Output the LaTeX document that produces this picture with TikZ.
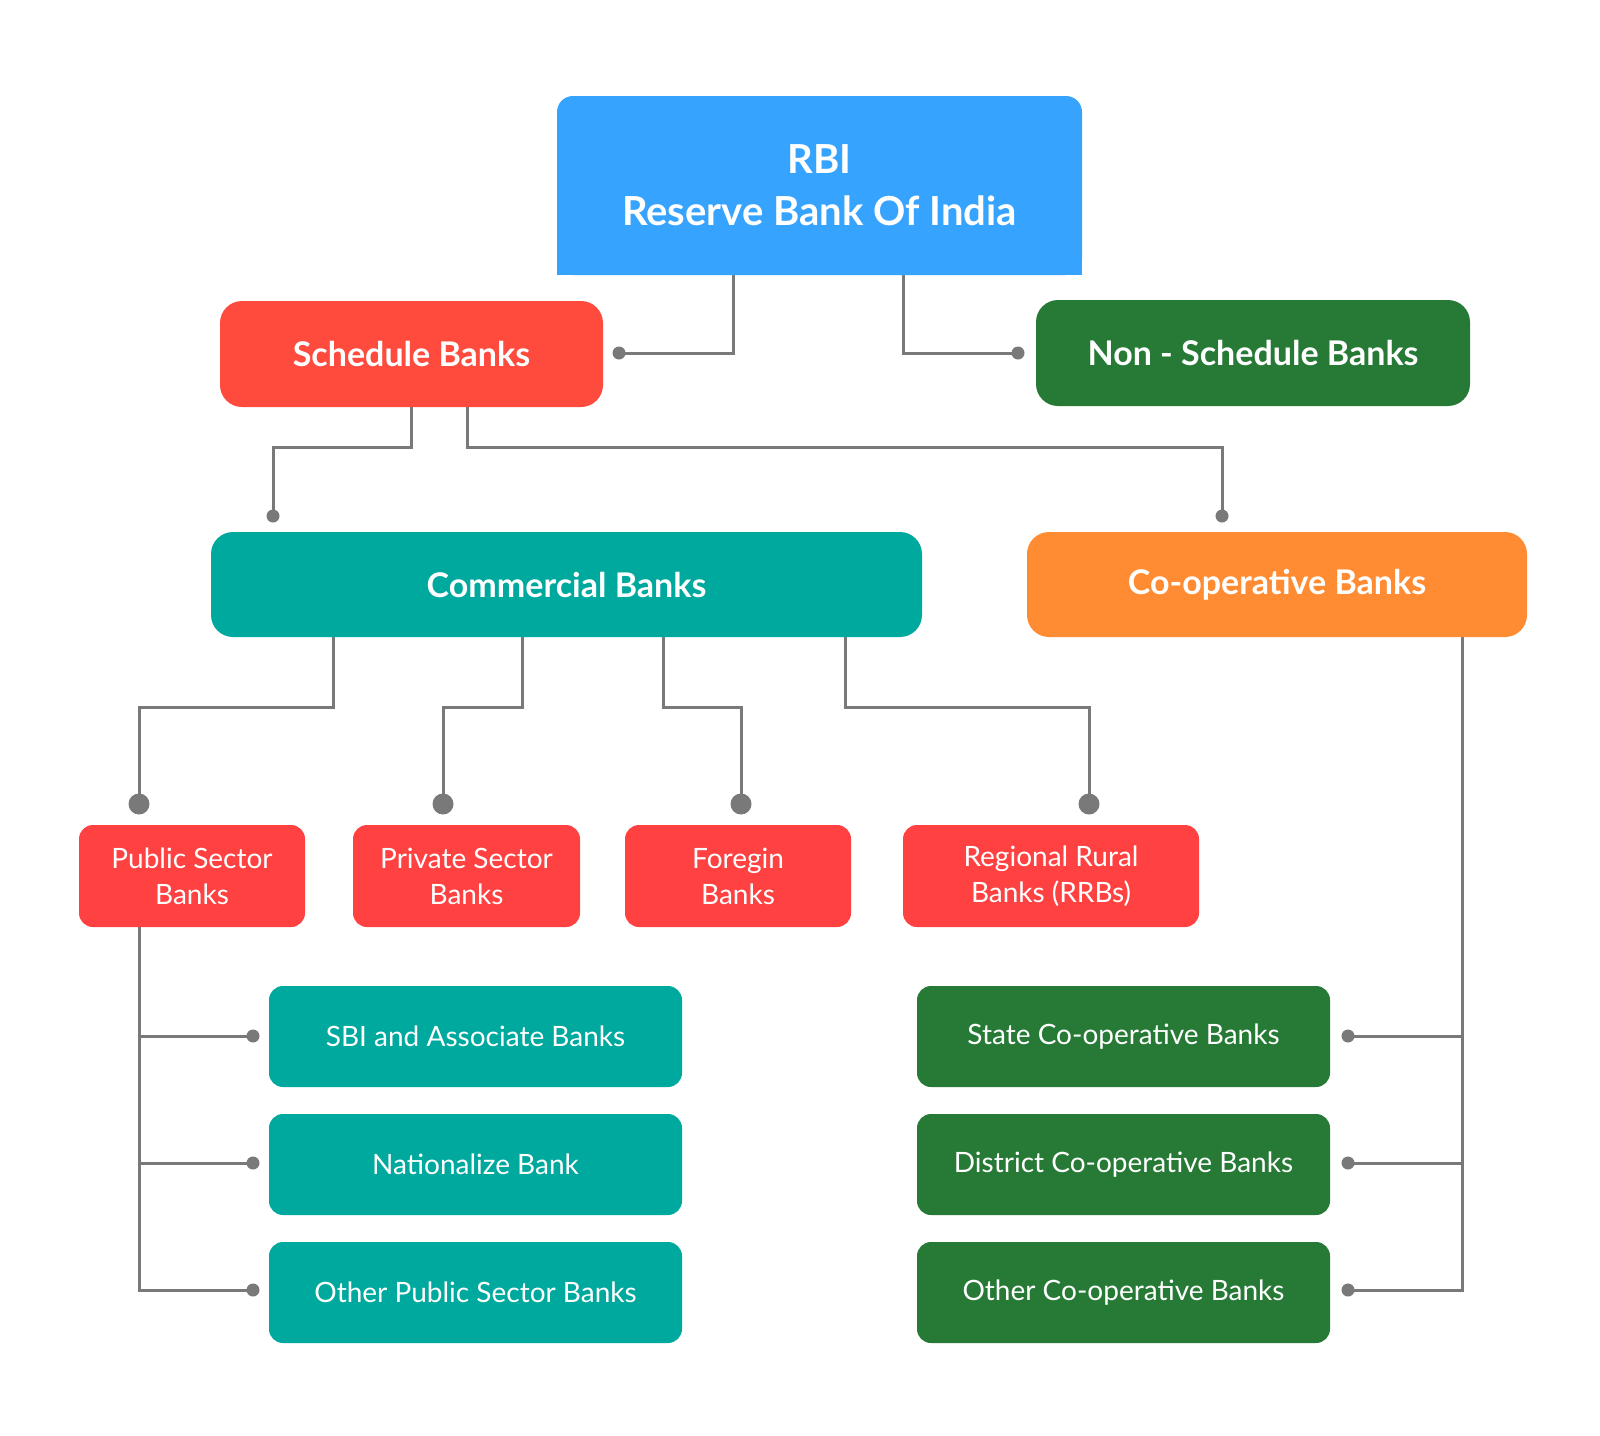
\documentclass[tikz,border=0pt]{standalone}
\usepackage{fontspec}
\setmainfont{Lato}
\begin{document}
\begin{tikzpicture}[x=1pt,y=-1pt,
  box/.style={rounded corners=22pt,text=white,align=center,inner sep=0pt},
  big/.style={box,font=\fontsize{34}{40}\selectfont\bfseries},
  small/.style={box,rounded corners=14pt,font=\fontsize{28}{36}\selectfont},
  ln/.style={draw=gray!50!black!70,line width=3pt},
  dot/.style={circle,fill=gray!50!black!70,inner sep=0pt,minimum size=13pt},
  bdot/.style={circle,fill=gray!50!black!70,inner sep=0pt,minimum size=21pt}]
\definecolor{cblue}{HTML}{36A3FF}
\definecolor{cred}{HTML}{FF4B3E}
\definecolor{cgreen}{HTML}{267A36}
\definecolor{cteal}{HTML}{00A99D}
\definecolor{corange}{HTML}{FF8C32}
\definecolor{cred2}{HTML}{FF4141}
\useasboundingbox (0,0) rectangle (1600,1435);
\fill[white] (0,0) rectangle (1600,1435);
% connectors first
\draw[ln] (733,275) |- (619,353) node[dot] (d1) {};
\draw[ln] (903,275) |- (1018,353) node[dot] (d2) {};
\draw[ln] (411,407) -- (411,447) -| (273,516) node[dot] (d3) {};
\draw[ln] (467,407) -- (467,447) -| (1222,516) node[dot] (d4) {};
\draw[ln] (333,637) -- (333,707) -| (139,804) node[bdot] {};
\draw[ln] (522,637) -- (522,707) -| (443,804) node[bdot] {};
\draw[ln] (663,637) -- (663,707) -| (741,804) node[bdot] {};
\draw[ln] (845,637) -- (845,707) -| (1089,804) node[bdot] {};
\draw[ln] (139,927) -- (139,1290) -- (253,1290) node[dot] {};
\draw[ln] (139,1036) -- (253,1036) node[dot] {};
\draw[ln] (139,1163) -- (253,1163) node[dot] {};
\draw[ln] (1462,637) -- (1462,1290) -- (1348,1290) node[dot] {};
\draw[ln] (1462,1036) -- (1348,1036) node[dot] {};
\draw[ln] (1462,1163) -- (1348,1163) node[dot] {};
% nodes
\node[big,fill=cblue,rounded corners=16pt,minimum width=525pt,minimum height=179pt,font=\fontsize{40}{52}\selectfont\bfseries] (rbi) at (819.5,185.5) {RBI\\Reserve Bank Of India};
\fill[cblue] (557,240) rectangle (1082,275);
\node[big,fill=cred,minimum width=383pt,minimum height=106pt] (sch) at (411.5,354) {Schedule Banks};
\node[big,fill=cgreen,minimum width=434pt,minimum height=106pt] (non) at (1253,353) {Non - Schedule Banks};
\node[big,fill=cteal,minimum width=711pt,minimum height=105pt] (com) at (566.5,584.5) {Commercial Banks};
\node[big,fill=corange,minimum width=500pt,minimum height=105pt] (coop) at (1277,584.5) {Co-operative Banks};
\node[small,fill=cred2,minimum width=226pt,minimum height=102pt] (pub) at (192,876) {Public Sector\\Banks};
\node[small,fill=cred2,minimum width=227pt,minimum height=102pt] (pri) at (466.5,876) {Private Sector\\Banks};
\node[small,fill=cred2,minimum width=226pt,minimum height=102pt] (for) at (738,876) {Foregin\\Banks};
\node[small,fill=cred2,minimum width=296pt,minimum height=102pt] (rrb) at (1051,876) {Regional Rural\\Banks (RRBs)};
\node[small,fill=cteal,minimum width=413pt,minimum height=101pt] (sbi) at (475.5,1036.5) {SBI and Associate Banks};
\node[small,fill=cteal,minimum width=413pt,minimum height=101pt] (nat) at (475.5,1164.5) {Nationalize Bank};
\node[small,fill=cteal,minimum width=413pt,minimum height=101pt] (opb) at (475.5,1292.5) {Other Public Sector Banks};
\node[small,fill=cgreen,minimum width=413pt,minimum height=101pt] (scb) at (1123.5,1036.5) {State Co-operative Banks};
\node[small,fill=cgreen,minimum width=413pt,minimum height=101pt] (dcb) at (1123.5,1164.5) {District Co-operative Banks};
\node[small,fill=cgreen,minimum width=413pt,minimum height=101pt] (ocb) at (1123.5,1292.5) {Other Co-operative Banks};
\end{tikzpicture}
\end{document}
